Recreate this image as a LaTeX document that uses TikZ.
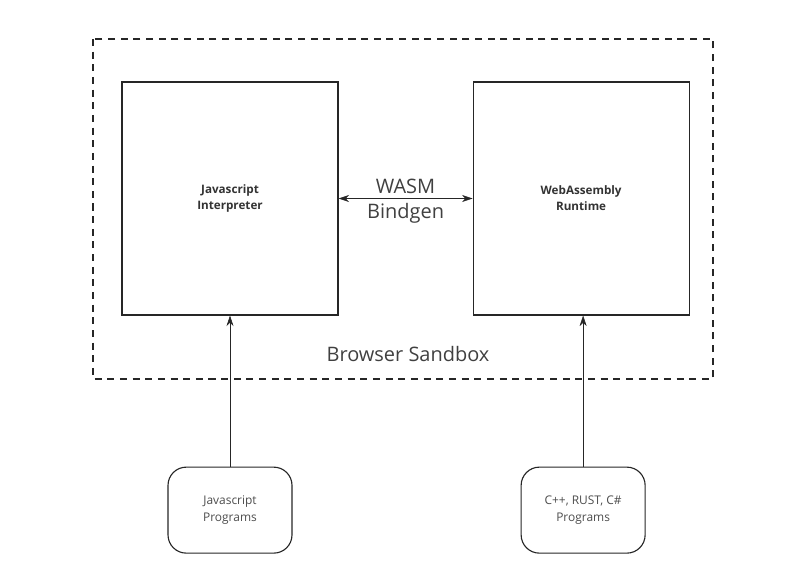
\documentclass[tikz,border=0pt]{standalone}
\usepackage{fontspec}
\setmainfont{Open Sans}
\setsansfont{Open Sans}
\usetikzlibrary{arrows.meta, positioning}
\tikzset{
    font=\sffamily,
    >={Stealth[length=7.5pt, width=5pt]},
    % Shapes
    engine/.style={rectangle, draw=black!85, thick, minimum width=5.4cm, minimum height=5.825cm,
                   align=center, font=\fontsize{8.3}{11.3}\selectfont\bfseries, text=black!80},
    source/.style={rectangle, draw=black!85, thick, rounded corners=13pt, minimum width=3.1cm,
                   minimum height=2.15cm, align=center, font=\fontsize{8.5}{12}\selectfont, text=black!70},
    sandbox/.style={draw=black!85, thick, dash pattern=on 5pt off 4pt},
    % Flow & Labels
    flow/.style={->, black!85},
    lbl/.style={font=\fontsize{14.2}{16}\selectfont, text=black!75, inner sep=2pt}
}
\begin{document}
\begin{tikzpicture}
\useasboundingbox (0,0) rectangle (19.775,-14.225);

\node[engine] (jsi) at (5.75,-4.9625) {Javascript\\Interpreter};
\node[engine, right=3.35cm of jsi] (wrt) {WebAssembly\\Runtime};
\node[source, below=3.775cm of jsi] (jsp) {Javascript\\Programs};
\node[source, below=3.775cm of wrt.south east, anchor=north east, xshift=-1.1cm] (nat) {C++, RUST, C\#\\Programs};

\coordinate (sbnw) at (2.325,-0.975);
\coordinate (sbse) at (17.825,-9.475);
\draw[sandbox] (sbnw) rectangle (sbse);
\node[lbl] (sbl) at (10.2,-8.85) {Browser Sandbox};

\draw[flow, <->] (jsi) -- node[lbl, above=1pt] (wasm) {WASM} node[lbl, below=1pt] (bgen) {Bindgen} (wrt);
\draw[flow] (jsp) -- (jsi);
\draw[flow] (nat.north) -- (nat.north |- wrt.south);

\end{tikzpicture}
\end{document}
